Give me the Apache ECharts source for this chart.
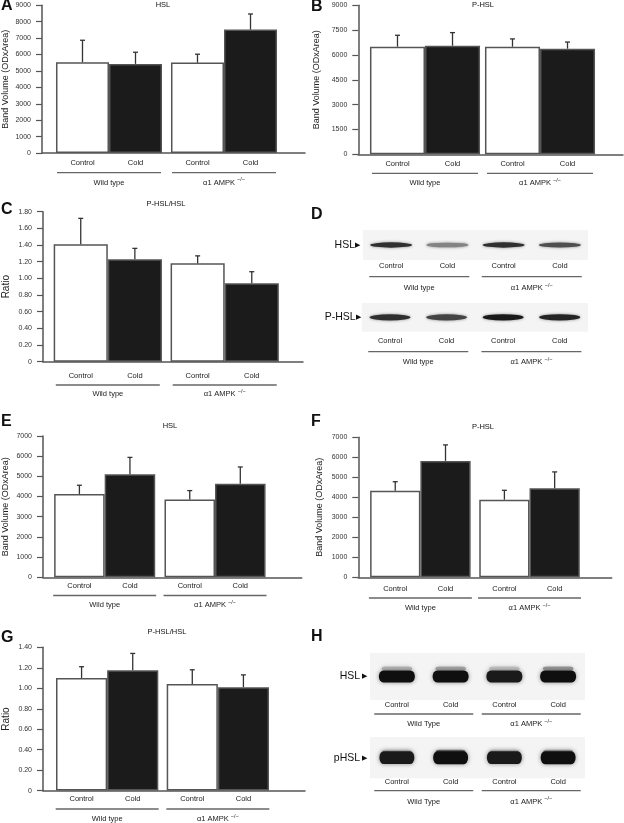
<!DOCTYPE html>
<html>
<head>
<meta charset="utf-8">
<script src="https://cdn.jsdelivr.net/npm/echarts@6/dist/echarts.min.js"></script>
<style>
  html, body { margin: 0; padding: 0; background: #fff; }
  #chart { width: 624px; height: 823px; }
</style>
</head>
<body>
<div id="chart"></div>
<script>
// categories
const groupNames = ['Wild type', 'α1 AMPK'];
const groupSup = ['', '−/−'];
const laneNames = ['Control', 'Cold', 'Control', 'Cold'];

// A: HSL (mean, sem) per group
const hslAControl = [5530, 5510];
const hslACold = [5430, 7520];
const hslAControlSem = [1340, 510];
const hslAColdSem = [710, 950];

// B: P-HSL
const phslBControl = [6500, 6500];
const phslBCold = [6560, 6380];
const phslBControlSem = [690, 470];
const phslBColdSem = [790, 400];

// C: P-HSL/HSL
const ratioCControl = [1.41, 1.18];
const ratioCCold = [1.23, 0.94];
const ratioCControlSem = [0.31, 0.09];
const ratioCColdSem = [0.13, 0.14];

// E: HSL
const hslEControl = [4130, 3850];
const hslECold = [5100, 4640];
const hslEControlSem = [430, 445];
const hslEColdSem = [840, 825];

// F: P-HSL
const phslFControl = [4330, 3880];
const phslFCold = [5820, 4450];
const phslFControlSem = [450, 470];
const phslFColdSem = [800, 820];

// G: P-HSL/HSL
const ratioGControl = [1.10, 1.04];
const ratioGCold = [1.175, 1.01];
const ratioGControlSem = [0.11, 0.14];
const ratioGColdSem = [0.165, 0.12];

// western blot band strength per lane (0..1)
const blotDHsl = [0.85, 0.45, 0.85, 0.7];
const blotDPhsl = [0.85, 0.75, 0.95, 0.9];
const blotHHsl = [1, 1, 0.95, 1];
const blotHHslUpper = [0.3, 0.4, 0.2, 0.5];
const blotHPhsl = [0.95, 1, 0.95, 1];
const blotHPhslUpper = [0.2, 0.8, 0.2, 0.45];

const FONT = '"Liberation Sans", Arial, sans-serif';
const AXIS = '#555';
const TXT = '#222';
const PILL = 'path://M5,0 H35 A5,5 0 0 1 35,10 H5 A5,5 0 0 1 5,0 Z';

const option = {
  animation: false,
  textStyle: { fontFamily: FONT },
  grid: [], xAxis: [], yAxis: [], series: [], graphic: []
};

function groupLabel(cfg) {
  const lh = cfg.nameLH;
  return {
    interval: 0,
    margin: cfg.ulMargin,
    formatter: (v, i) => '{u|}\n{n|' + v + (groupSup[i] ? ' ' : '') + '}' +
      (groupSup[i] ? '{s|' + groupSup[i] + '}' : ''),
    rich: {
      u: { width: cfg.ulW, height: 1.3, lineHeight: 2, backgroundColor: '#666' },
      n: { fontSize: 7.5, lineHeight: lh, color: TXT, fontFamily: FONT },
      s: { fontSize: 5.5, height: lh - 6, verticalAlign: 'top', color: TXT, fontFamily: FONT }
    }
  };
}

function errRender(gapFrac) {
  return function (params, api) {
    const cat = api.value(0), v = api.value(1), e = api.value(2), side = api.value(3);
    const band = api.size([1, 0])[0];
    const barW = band * (1 - gapFrac) / 2;
    const base = api.coord([cat, v]);
    const top = api.coord([cat, v + e]);
    const x = base[0] + side * barW / 2;
    const st = { stroke: '#333', lineWidth: 1.3 };
    return {
      type: 'group',
      children: [
        { type: 'line', shape: { x1: x, y1: base[1], x2: x, y2: top[1] }, style: st },
        { type: 'line', shape: { x1: x - 2.5, y1: top[1], x2: x + 2.5, y2: top[1] }, style: st }
      ]
    };
  };
}

function barPanel(cfg, control, cold, controlSem, coldSem) {
  const fg = option.grid.length;
  option.grid.push({ left: cfg.frameL, top: cfg.top, width: cfg.frameR - cfg.frameL, height: cfg.bottom - cfg.top });
  const dg = fg + 1;
  option.grid.push({ left: cfg.dataL, top: cfg.top, width: cfg.dataW, height: cfg.bottom - cfg.top });

  option.xAxis.push({
    type: 'value', gridIndex: fg, min: 0, max: 1,
    axisLine: { show: true, onZero: false, lineStyle: { color: AXIS, width: 1.5 } },
    axisTick: { show: false }, axisLabel: { show: false }, splitLine: { show: false }
  });
  option.yAxis.push({
    type: 'value', gridIndex: fg, min: 0, max: cfg.max, interval: cfg.interval,
    name: cfg.name, nameLocation: 'middle', nameGap: cfg.nameGap,
    nameTextStyle: { fontSize: cfg.nameSize, color: TXT },
    axisLine: { show: true, lineStyle: { color: AXIS, width: 1.5 } },
    axisTick: { show: true, length: 6, lineStyle: { color: AXIS, width: 1.2 } },
    axisLabel: { fontSize: 7, color: '#333', margin: 11, formatter: cfg.fmt },
    splitLine: { show: false }
  });
  const dx = option.xAxis.length;
  option.xAxis.push({
    type: 'category', gridIndex: dg, data: groupNames, position: 'bottom',
    axisLine: { show: false }, axisTick: { show: false }, axisLabel: groupLabel(cfg)
  });
  const dy = option.yAxis.length;
  option.yAxis.push({ type: 'value', gridIndex: dg, min: 0, max: cfg.max, show: false });

  const styles = [
    { color: '#fff', borderColor: '#555', borderWidth: 1.5 },
    { color: '#1b1b1b', borderColor: '#555', borderWidth: 1.5 }
  ];
  [control, cold].forEach((vals, k) => {
    option.series.push({
      type: 'bar', name: laneNames[k], xAxisIndex: dx, yAxisIndex: dy, data: vals,
      barGap: '0%', barCategoryGap: cfg.gap, itemStyle: styles[k], z: 2,
      label: { show: true, position: 'bottom', distance: cfg.labelDist, formatter: '{a}', fontSize: 7.5, color: TXT }
    });
  });
  option.series.push({
    type: 'custom', xAxisIndex: dx, yAxisIndex: dy, z: 5, silent: true,
    data: control.map((v, i) => [i, v, controlSem[i], -1]).concat(cold.map((v, i) => [i, v, coldSem[i], 1])),
    renderItem: errRender(parseFloat(cfg.gap) / 100)
  });
}

function bandColor(s) {
  const g = Math.round(225 - 210 * s);
  return 'rgb(' + g + ',' + g + ',' + g + ')';
}

function blotPanel(cfg, strength, upper) {
  const g = option.grid.length;
  option.grid.push({
    left: cfg.left, top: cfg.top, width: cfg.right - cfg.left, height: cfg.bottom - cfg.top,
    show: true, backgroundColor: '#f4f4f4', borderWidth: 0
  });
  const lx = option.xAxis.length;
  option.xAxis.push({
    type: 'category', gridIndex: g, data: laneNames, position: 'bottom',
    axisLine: { show: false }, axisTick: { show: false },
    axisLabel: { interval: 0, margin: cfg.laneMargin, fontSize: 7.5, color: TXT }
  });
  option.xAxis.push({
    type: 'category', gridIndex: g, data: cfg.groups || groupNames, position: 'bottom',
    axisLine: { show: false }, axisTick: { show: false }, axisLabel: groupLabel(cfg)
  });
  const ly = option.yAxis.length;
  option.yAxis.push({
    type: 'category', gridIndex: g, data: [cfg.label],
    axisLine: { show: false }, axisTick: { show: false },
    axisLabel: {
      margin: cfg.labelMargin,
      formatter: v => '{t|' + v + '}{a|' + cfg.arrowSep + '▶}',
      rich: { t: { fontSize: 10.5, color: '#111', fontFamily: FONT }, a: { fontSize: 7, color: '#111' } }
    }
  });
  if (upper) {
    option.series.push({
      type: 'scatter', xAxisIndex: lx, yAxisIndex: ly, silent: true, z: 1,
      data: upper.map((s, i) => [i, 0, s]),
      symbol: PILL, symbolOffset: [0, cfg.upperOffset],
      symbolSize: [cfg.bandW * 0.85, 4],
      itemStyle: { color: p => bandColor(p.value[2]), shadowBlur: 4, shadowColor: 'rgba(150,150,150,0.6)', opacity: 0.7 }
    });
  }
  option.series.push({
    type: 'scatter', xAxisIndex: lx, yAxisIndex: ly, silent: true, z: 2,
    data: strength.map((s, i) => [i, 0, s]),
    symbol: cfg.shape,
    symbolSize: v => [cfg.bandW, cfg.bandH * (0.75 + 0.25 * v[2])],
    itemStyle: { color: p => bandColor(p.value[2]), shadowBlur: cfg.blur, shadowColor: 'rgba(40,40,40,0.55)', opacity: 1 }
  });
}

function txt(x, y, t, size, bold) {
  option.graphic.push({
    type: 'text', x: x, y: y, silent: true,
    style: {
      text: t, fontSize: size, fontWeight: bold ? 'bold' : 'normal', fontFamily: FONT,
      fill: '#111', align: bold ? 'left' : 'center', verticalAlign: 'middle'
    }
  });
}

const intFmt = v => String(v);
const ratioFmt = v => (v === 0 ? '0' : v.toFixed(2));

barPanel({ frameL: 42, frameR: 305, top: 5.3, bottom: 153, dataL: 51.5, dataW: 230, gap: '7.8%',
  max: 9000, interval: 1000, fmt: intFmt, name: 'Band Volume (ODxArea)', nameGap: 32, nameSize: 9,
  labelDist: 5.5, ulMargin: 18.7, nameLH: 18, ulW: 104 },
  hslAControl, hslACold, hslAControlSem, hslAColdSem);

barPanel({ frameL: 358.3, frameR: 623, top: 5.3, bottom: 154.3, dataL: 367.5, dataW: 230, gap: '4.3%',
  max: 9000, interval: 1500, fmt: intFmt, name: 'Band Volume (ODxArea)', nameGap: 37, nameSize: 9,
  labelDist: 6, ulMargin: 18, nameLH: 18, ulW: 106 },
  phslBControl, phslBCold, phslBControlSem, phslBColdSem);

barPanel({ frameL: 41.7, frameR: 303, top: 211.7, bottom: 361.7, dataL: 49.35, dataW: 233.8, gap: '7.4%',
  max: 1.8, interval: 0.2, fmt: ratioFmt, name: 'Ratio', nameGap: 32, nameSize: 10,
  labelDist: 10.5, ulMargin: 22.3, nameLH: 16, ulW: 104 },
  ratioCControl, ratioCCold, ratioCControlSem, ratioCColdSem);

barPanel({ frameL: 42.7, frameR: 301.7, top: 436, bottom: 577.3, dataL: 49.5, dataW: 220.7, gap: '8.4%',
  max: 7000, interval: 1000, fmt: intFmt, name: 'Band Volume (ODxArea)', nameGap: 33, nameSize: 9,
  labelDist: 5, ulMargin: 17.2, nameLH: 17, ulW: 103 },
  hslEControl, hslECold, hslEControlSem, hslEColdSem);

barPanel({ frameL: 358.3, frameR: 611.7, top: 437.3, bottom: 577.3, dataL: 365.8, dataW: 218.3, gap: '7.9%',
  max: 7000, interval: 1000, fmt: intFmt, name: 'Band Volume (ODxArea)', nameGap: 34, nameSize: 9,
  labelDist: 7.5, ulMargin: 19.7, nameLH: 18.6, ulW: 103 },
  phslFControl, phslFCold, phslFControlSem, phslFColdSem);

barPanel({ frameL: 42.7, frameR: 305, top: 647.3, bottom: 790.7, dataL: 51.8, dataW: 221.4, gap: '7.6%',
  max: 1.4, interval: 0.2, fmt: ratioFmt, name: 'Ratio', nameGap: 32, nameSize: 10,
  labelDist: 4.8, ulMargin: 17.6, nameLH: 18, ulW: 103 },
  ratioGControl, ratioGCold, ratioGControlSem, ratioGColdSem);

// D blots
blotPanel({ left: 363, right: 588, top: 230, bottom: 260, label: 'HSL', arrowSep: '', labelMargin: 3, shape: 'circle',
  laneMargin: 2.2, ulMargin: 15.7, nameLH: 21, ulW: 100, bandW: 42, bandH: 5.5, blur: 3 }, blotDHsl);
blotPanel({ left: 361.7, right: 588, top: 303, bottom: 331.7, label: 'P-HSL', arrowSep: '', labelMargin: 1, shape: 'circle',
  laneMargin: 5.5, ulMargin: 19, nameLH: 19, ulW: 100, bandW: 41, bandH: 6.5, blur: 3 }, blotDPhsl);

// H blots
const wtCap = ['Wild Type', 'α1 AMPK'];
blotPanel({ left: 370, right: 585, top: 653, bottom: 700, label: 'HSL', arrowSep: ' ', labelMargin: 3, groups: wtCap,
  shape: PILL, laneMargin: 0.5, ulMargin: 13, nameLH: 18.6, ulW: 99, bandW: 36, bandH: 12, blur: 4, upperOffset: -8 },
  blotHHsl, blotHHslUpper);
blotPanel({ left: 370, right: 585, top: 737, bottom: 778.3, label: 'pHSL', arrowSep: ' ', labelMargin: 3, groups: wtCap,
  shape: PILL, laneMargin: 0, ulMargin: 11.4, nameLH: 20, ulW: 99, bandW: 35, bandH: 13, blur: 4, upperOffset: -6 },
  blotHPhsl, blotHPhslUpper);

// panel letters and titles
txt(1, 6, 'A', 16, true);
txt(311, 7, 'B', 16, true);
txt(1, 210, 'C', 16, true);
txt(311, 215, 'D', 16, true);
txt(1, 422, 'E', 16, true);
txt(311, 422, 'F', 16, true);
txt(1, 637.5, 'G', 16, true);
txt(311, 637, 'H', 16, true);
txt(163, 5, 'HSL', 7.5);
txt(483, 5, 'P-HSL', 7.5);
txt(166, 203.5, 'P-HSL/HSL', 7.5);
txt(170, 426, 'HSL', 7.5);
txt(483, 427, 'P-HSL', 7.5);
txt(167, 632, 'P-HSL/HSL', 7.5);

const chart = echarts.init(document.getElementById('chart'));
chart.setOption(option);
</script>
</body>
</html>
